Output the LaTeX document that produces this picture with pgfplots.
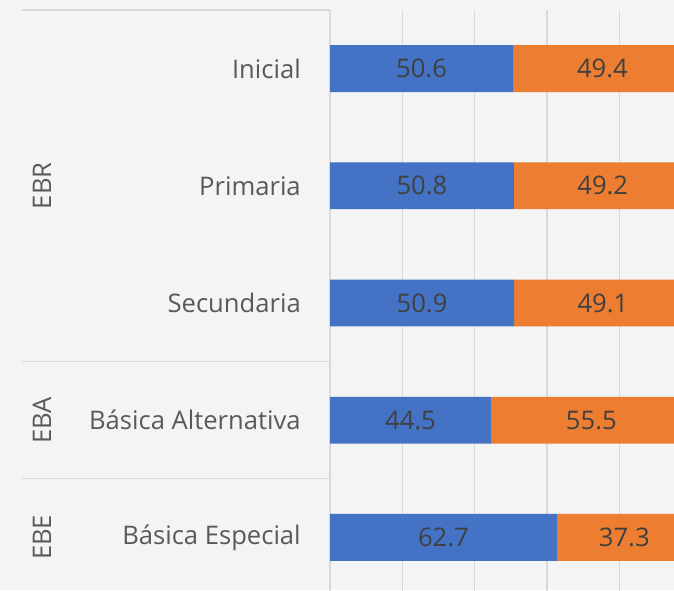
\documentclass[border=0pt]{standalone}
\usepackage{pgfplots}
\pgfplotsset{compat=1.18}
\usepackage{fontspec}
\setmainfont{Open Sans}
\definecolor{bg}{HTML}{F4F4F4}
\definecolor{cblue}{HTML}{4472C4}
\definecolor{corange}{HTML}{ED7D31}
\definecolor{gridc}{HTML}{D9D9D9}
\definecolor{lab}{HTML}{595959}
\definecolor{num}{HTML}{404040}
\begin{document}
\begin{tikzpicture}
\useasboundingbox (0pt,0pt) rectangle (505.5pt,442.5pt);
\fill[bg] (0pt,0pt) rectangle (505.5pt,442.5pt);
\clip (0pt,0pt) rectangle (505.5pt,442.5pt);
\begin{axis}[
  at={(247.5pt,-4.5pt)}, anchor=south west,
  scale only axis, width=271.3pt, height=439.5pt,
  xbar stacked, bar width=0.4,
  xmin=0, xmax=100, ymin=-0.5, ymax=4.5,
  clip mode=individual,
  axis line style={draw=none},
  major tick style={draw=none},
  xtick={0,20,40,60,80,100},
  xticklabels={},
  xmajorgrids, grid style={gridc, line width=1pt},
  ytick={0,1,2,3,4},
  yticklabels={Básica Especial,Básica Alternativa,Secundaria,Primaria,Inicial},
  yticklabel style={font=\fontsize{19.2}{23}\selectfont, text=lab, anchor=east, inner sep=0pt, xshift=-21.75pt},
  point meta=rawx,
  nodes near coords,
  nodes near coords style={font=\fontsize{19.2}{23}\selectfont, text=num, anchor=center,
    /pgf/number format/fixed, /pgf/number format/fixed zerofill, /pgf/number format/precision=1,
    /pgf/number format/assume math mode=true},
]
\addplot[fill=cblue, draw=none] coordinates {(50.6,4) (50.8,3) (50.9,2) (44.5,1) (62.7,0)};
\addplot[fill=corange, draw=none] coordinates {(49.4,4) (49.2,3) (49.1,2) (55.5,1) (37.3,0)};
\draw[gridc, line width=1pt] (axis cs:0,4.5) -- (axis cs:0,-0.5);
\draw[gridc, line width=1pt] (axis cs:0,4.5) -- ++(-231pt,0pt);
\draw[gridc, line width=1pt] (axis cs:0,1.5) -- ++(-231pt,0pt);
\draw[gridc, line width=1pt] (axis cs:0,0.5) -- ++(-231pt,0pt);
\node[rotate=90, text=lab, font=\fontsize{19.2}{23}\selectfont] at ([xshift=-216pt]axis cs:0,3) {EBR};
\node[rotate=90, text=lab, font=\fontsize{19.2}{23}\selectfont] at ([xshift=-216pt]axis cs:0,1) {EBA};
\node[rotate=90, text=lab, font=\fontsize{19.2}{23}\selectfont] at ([xshift=-216pt]axis cs:0,0) {EBE};
\end{axis}
\end{tikzpicture}
\end{document}
